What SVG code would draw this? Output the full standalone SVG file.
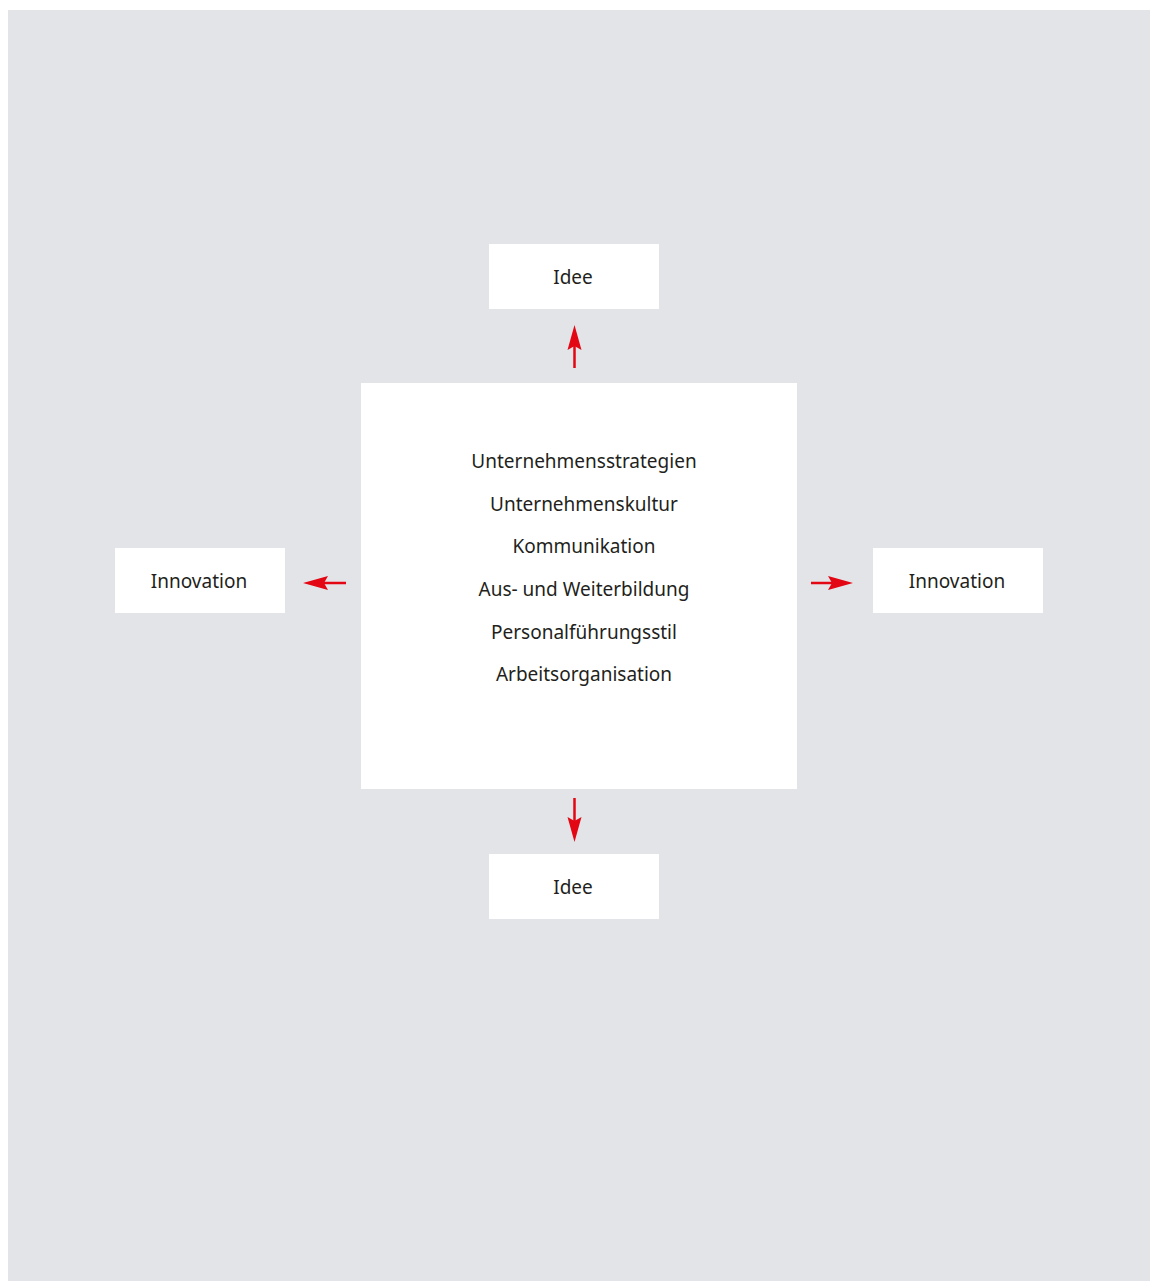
<svg xmlns="http://www.w3.org/2000/svg" width="1155" height="1281" viewBox="0 0 1155 1281">
<defs>
<style>
.box{fill:#ffffff}
.t{font-family:"Noto Sans","Liberation Sans",sans-serif;font-size:19px;fill:#231f20;text-anchor:middle}
.ln{stroke:#e30613;stroke-width:2.5;fill:none}
.hd{fill:#e30613}
</style>
</defs>
<rect x="0" y="0" width="1155" height="1281" fill="#ffffff"/>
<rect x="8" y="10" width="1142" height="1271" fill="#e3e4e8"/>
<g id="center">
<rect class="box" x="361" y="383" width="436" height="406"/>
<text class="t" x="584" y="468">Unternehmensstrategien</text>
<text class="t" x="584" y="511">Unternehmenskultur</text>
<text class="t" x="584" y="553">Kommunikation</text>
<text class="t" x="584" y="596">Aus- und Weiterbildung</text>
<text class="t" x="584" y="639">Personalführungsstil</text>
<text class="t" x="584" y="681">Arbeitsorganisation</text>
</g>
<g id="idee-top">
<rect class="box" x="489" y="244" width="170" height="65"/>
<text class="t" x="573" y="284">Idee</text>
</g>
<g id="idee-bottom">
<rect class="box" x="489" y="854" width="170" height="65"/>
<text class="t" x="573" y="894">Idee</text>
</g>
<g id="innovation-left">
<rect class="box" x="115" y="548" width="170" height="65"/>
<text class="t" x="199" y="588">Innovation</text>
</g>
<g id="innovation-right">
<rect class="box" x="873" y="548" width="170" height="65"/>
<text class="t" x="957" y="588">Innovation</text>
</g>
<g id="connectors">
<line class="ln" x1="574.5" y1="368" x2="574.5" y2="340"/>
<path class="hd" d="M574.5,325 L581.5,350 L574.5,346 L567.5,350 Z"/>
<line class="ln" x1="574.5" y1="798" x2="574.5" y2="828"/>
<path class="hd" d="M574.5,842 L581.5,817 L574.5,821 L567.5,817 Z"/>
<line class="ln" x1="346" y1="583" x2="318" y2="583"/>
<path class="hd" d="M303,583 L328,576 L324,583 L328,590 Z"/>
<line class="ln" x1="811" y1="583" x2="838" y2="583"/>
<path class="hd" d="M853,583 L828,576 L832,583 L828,590 Z"/>
</g>
</svg>
